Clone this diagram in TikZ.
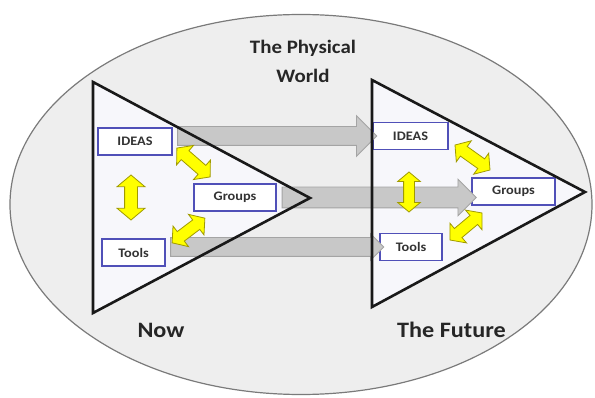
\documentclass[tikz,border=0pt]{standalone}
\usepackage{fontspec}
\setmainfont{Carlito}[FakeStretch=1.1]
\usetikzlibrary{calc,shapes.arrows}
\definecolor{ellfill}{HTML}{EEEEEE}
\definecolor{ellline}{HTML}{7A7A7A}
\definecolor{trifill}{HTML}{F7F7FB}
\definecolor{boxline}{HTML}{5050B8}
\definecolor{shaft}{HTML}{C8C8C8}
\definecolor{shaftline}{HTML}{A4A4A4}
\definecolor{yel}{HTML}{FFFF00}
\definecolor{yelline}{HTML}{A09A00}
\newcommand{\maketri}[4]{
	\coordinate (#1top) at (#2,#3);
	\coordinate (#1bot) at (#2,#4);
}
\tikzset{
	idea/.style={draw=boxline,line width=1.8pt,fill=white,minimum height=27pt,inner sep=1pt,font=\bfseries\fontsize{13}{16}\selectfont,text=black!80},
	grayarrow/.style={single arrow,draw=shaftline,fill=shaft,line width=0.8pt,inner xsep=0pt},
	yelarrow/.style={double arrow,draw=yelline,fill=yel,line width=0.8pt,inner xsep=0pt,double arrow tip angle=100},
	lbl/.style={font=\bfseries\fontsize{22}{26}\selectfont,text=black!85}
}

\begin{document}
\begin{tikzpicture}[x=1pt,y=-1pt]
		\useasboundingbox (0,0) rectangle (595,398);
		\draw[ellline,fill=ellfill,line width=1.2pt] (301,204.5) ellipse [x radius=291pt, y radius=190pt];
		% the two triangles
		\maketri{now}{93}{82}{313}
		\coordinate (nowtip) at (310,198);
		\maketri{fut}{372}{80}{307}
		\coordinate (futtip) at (585,192);
		\fill[trifill] (nowtop) -- (nowtip) -- (nowbot) -- cycle;
		\fill[trifill] (futtop) -- (futtip) -- (futbot) -- cycle;
		% boxes
		\node[idea,minimum width=74pt] (iL) at (135,141.5) {IDEAS};
		\node[idea,minimum width=82pt] (gL) at (235,197.5) {Groups};
		\node[idea,minimum width=63pt] (tL) at (133.5,252.5) {Tools};
		\node[idea,minimum width=75pt] (iR) at (410.5,136) {IDEAS};
		\node[idea,minimum width=83pt] (gR) at (513.5,191.5) {Groups};
		\node[idea,minimum width=62pt] (tR) at (411,247) {Tools};
		% now -> future
		\path let \p1=(iL.east|-iR), \p2=(iR.west) in
			node[grayarrow,minimum height=\x2-\x1,inner ysep=9pt,single arrow head extend=11pt] (aI) at ($(\p1)!.5!(\p2)$) {};
		\path let \p1=(gL.east), \p2=(gR.west|-gL) in
			node[grayarrow,minimum height=\x2-\x1,inner ysep=10pt,single arrow head extend=8pt] (aG) at ($(\p1)!.5!(\p2)$) {};
		\path let \p1=(tL.east|-tR), \p2=(tR.west) in
			node[grayarrow,minimum height=\x2-\x1,inner ysep=9pt,single arrow head extend=4pt] (aT) at ($(\p1)!.5!(\p2)$) {};
		\draw[black!90,line width=2.6pt,line join=miter] (nowtop) -- (nowtip) -- (nowbot) -- cycle;
		\draw[black!90,line width=2.6pt,line join=miter] (futtop) -- (futtip) -- (futbot) -- cycle;
		% yellow links
		\node[yelarrow,minimum height=45pt,inner ysep=6pt,double arrow head extend=7.5pt,rotate=90] (yL1) at (131,197.5) {};
		\node[yelarrow,minimum height=44pt,inner ysep=5.5pt,double arrow head extend=7pt,rotate=-41] (yL2) at (193.5,162.5) {};
		\node[yelarrow,minimum height=41pt,inner ysep=5.5pt,double arrow head extend=7pt,rotate=37] (yL3) at (188.5,230.5) {};
		\node[yelarrow,minimum height=40pt,inner ysep=5pt,double arrow head extend=6pt,rotate=90] (yR1) at (409,192) {};
		\node[yelarrow,minimum height=43pt,inner ysep=5.5pt,double arrow head extend=7pt,rotate=-35.5] (yR2) at (472.5,157.5) {};
		\node[yelarrow,minimum height=42pt,inner ysep=5.5pt,double arrow head extend=7pt,rotate=40] (yR3) at (466,226.5) {};
		% labels
		\node[lbl,font=\bfseries\fontsize{19}{29}\selectfont,align=center] (world) at (303,61) {The Physical\\World};
		\node[lbl] (now) at (161,330) {Now};
		\node[lbl] (fut) at (451.5,330) {The Future};
	\end{tikzpicture}
\end{document}
